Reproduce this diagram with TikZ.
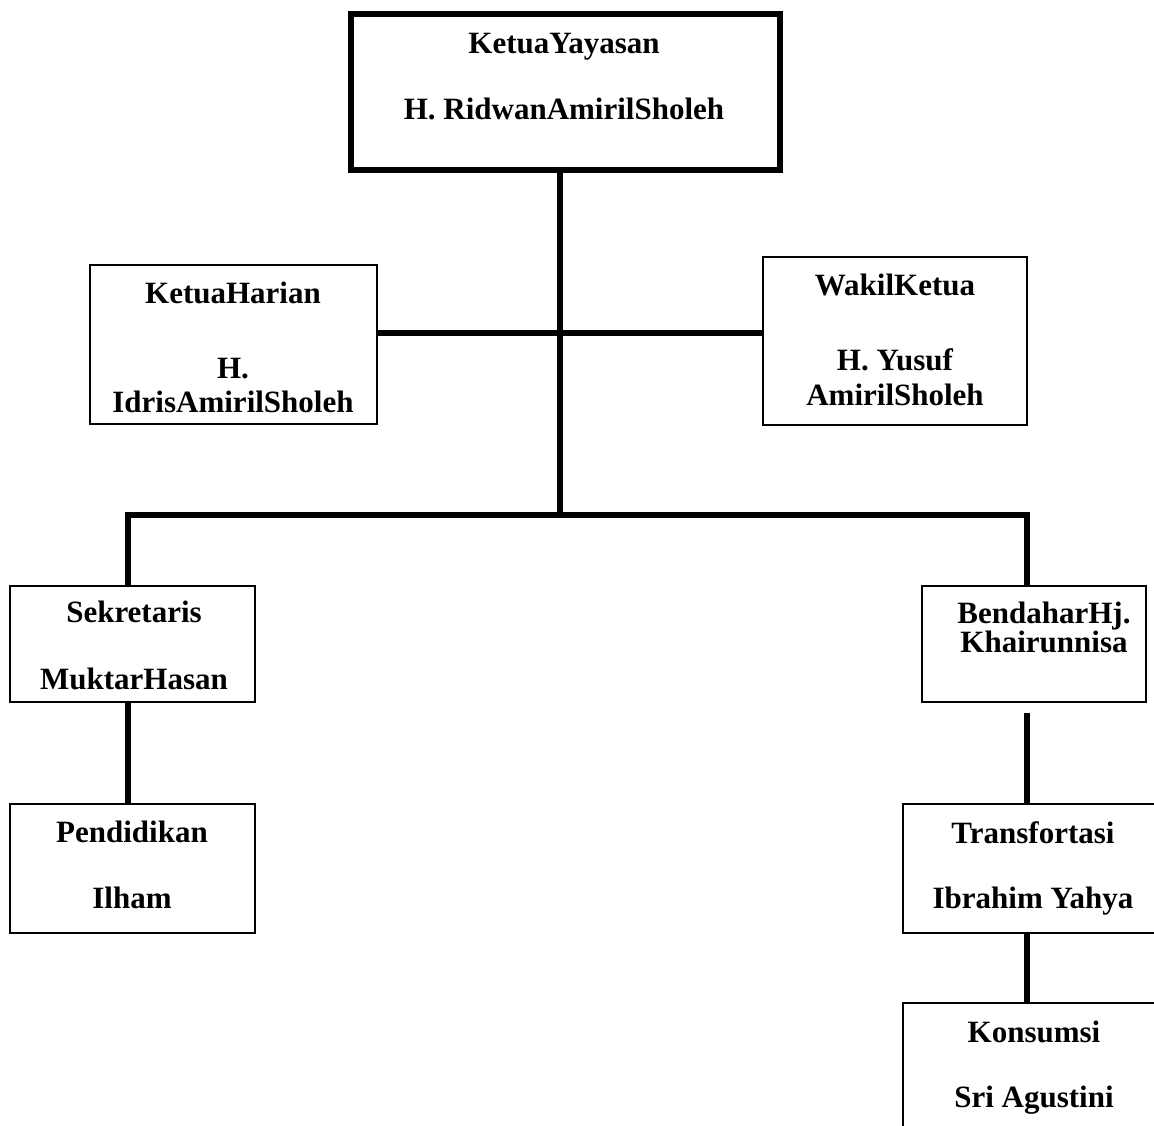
\documentclass[tikz,border=0pt]{standalone}
\usepackage{fontspec}
\setmainfont{Liberation Serif}
\begin{document}
\begin{tikzpicture}[x=1pt,y=-1pt,
  box/.style={draw=black,line width=2pt,rectangle,inner sep=0pt,fill=white},
  topbox/.style={draw=black,line width=6pt,rectangle,inner sep=0pt,fill=white},
  conn/.style={draw=black,line width=6pt},
  lbl/.style={anchor=base,inner sep=0pt,font=\fontsize{31}{36}\selectfont\bfseries}]
\useasboundingbox (0,0) rectangle (1154,1126);
\clip (0,0) rectangle (1154,1126);
% boxes
\node[topbox,minimum width=429pt,minimum height=156pt] (ketua) at (565.5,92.5) {};
\node[box,minimum width=287pt,minimum height=159pt] (harian) at (233.5,344.5) {};
\node[box,minimum width=264pt,minimum height=168pt] (wakil) at (895,341) {};
\node[box,minimum width=245pt,minimum height=116pt] (sek) at (132.5,644) {};
\node[box,minimum width=245pt,minimum height=129pt] (pend) at (132.5,868.5) {};
\node[box,minimum width=224pt,minimum height=116pt] (bend) at (1034,644) {};
\node[box,minimum width=267pt,minimum height=129pt] (trans) at (1036.5,868.5) {};
\node[box,minimum width=267pt,minimum height=140pt] (kons) at (1036.5,1073) {};
% junction coordinates
\coordinate (jmid) at (560,333);
\coordinate (jbar) at (560,515);
\coordinate (jleft) at (128,515);
\coordinate (jright) at (1027,515);
\coordinate (bendlow) at (1027,713);
% connectors
\draw[conn] (ketua.south -| jmid) -- (jbar);
\draw[conn] (harian.east |- jmid) -- (wakil.west |- jmid);
\draw[conn,line cap=rect] (jleft) -- (jright);
\draw[conn] (jleft) -- (sek.north -| jleft);
\draw[conn] (jright) -- (bend.north -| jright);
\draw[conn] (sek.south -| jleft) -- (pend.north -| jleft);
\draw[conn] (bendlow) -- (trans.north -| bendlow);
\draw[conn] (trans.south -| bendlow) -- (kons.north -| bendlow);
% texts
\node[lbl] (t1a) at (564,54) {KetuaYayasan};
\node[lbl] (t1b) at (564,120) {H. RidwanAmirilSholeh};
\node[lbl] (t2a) at (233,303) {KetuaHarian};
\node[lbl] (t2b) at (233,378) {H.};
\node[lbl] (t2c) at (233,412) {IdrisAmirilSholeh};
\node[lbl] (t3a) at (895,295) {WakilKetua};
\node[lbl] (t3b) at (895,370) {H. Yusuf};
\node[lbl] (t3c) at (895,405) {AmirilSholeh};
\node[lbl] (t4a) at (134,622) {Sekretaris};
\node[lbl] (t4b) at (134,689) {MuktarHasan};
\node[lbl] (t5a) at (1044,623) {BendaharHj.};
\node[lbl] (t5b) at (1044,652) {Khairunnisa};
\node[lbl] (t6a) at (132,842) {Pendidikan};
\node[lbl] (t6b) at (132,908) {Ilham};
\node[lbl] (t7a) at (1033,843) {Transfortasi};
\node[lbl] (t7b) at (1033,908) {Ibrahim Yahya};
\node[lbl] (t8a) at (1034,1042) {Konsumsi};
\node[lbl] (t8b) at (1034,1107) {Sri Agustini};
\end{tikzpicture}
\end{document}
